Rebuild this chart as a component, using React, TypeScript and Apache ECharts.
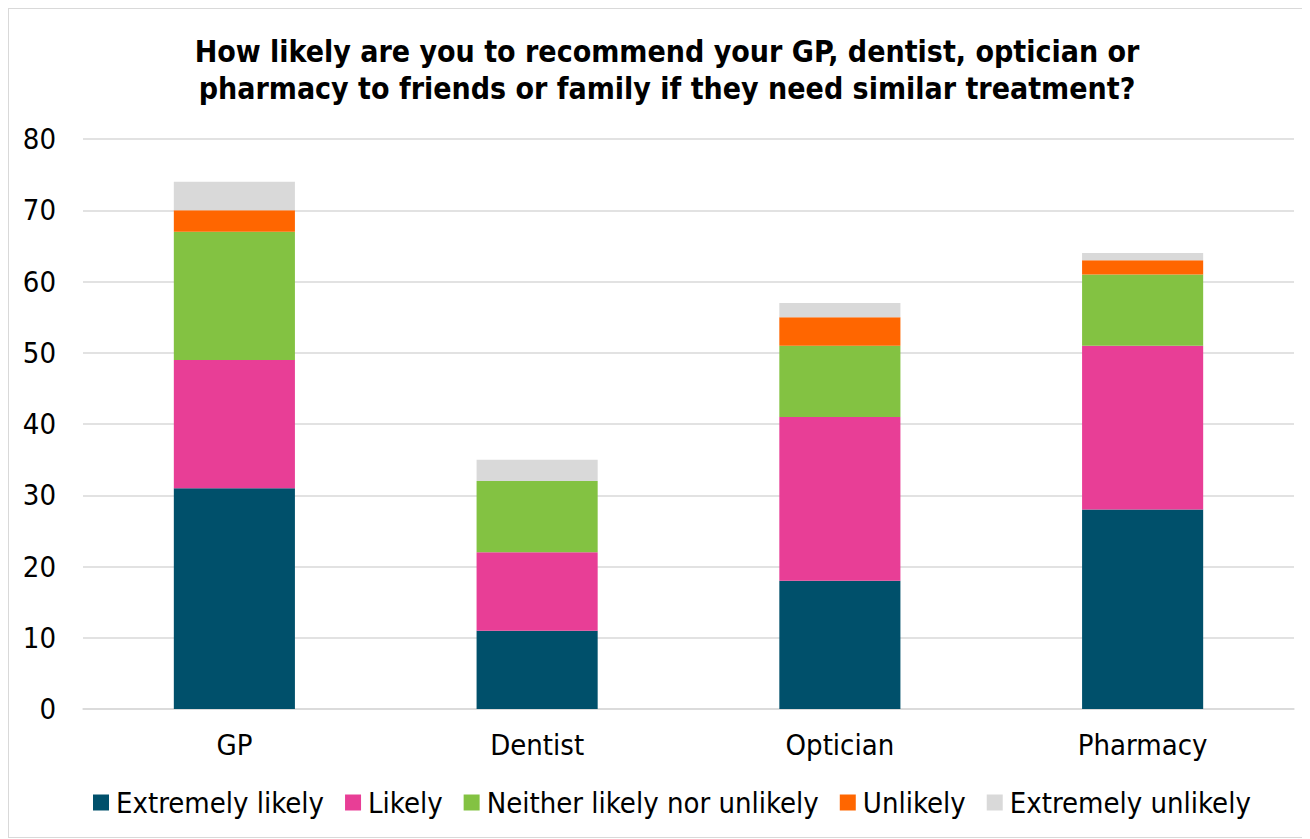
import React, { useEffect, useRef } from "react";
import * as echarts from "echarts";

const categories = ["GP", "Dentist", "Optician", "Pharmacy"];
const extremelyLikely = [31, 11, 18, 28];
const likely = [18, 11, 23, 23];
const neither = [18, 10, 10, 10];
const unlikely = [3, 0, 4, 2];
const extremelyUnlikely = [4, 3, 2, 1];

const seriesDefs = [
  { name: "Extremely likely", data: extremelyLikely, color: "#00506b" },
  { name: "Likely", data: likely, color: "#e83e96" },
  { name: "Neither likely nor unlikely", data: neither, color: "#83c242" },
  { name: "Unlikely", data: unlikely, color: "#ff6600" },
  { name: "Extremely unlikely", data: extremelyUnlikely, color: "#d9d9d9" },
];

const FONT = "'DejaVu Sans Condensed', 'DejaVu Sans', sans-serif";

export default function App() {
  const ref = useRef<HTMLDivElement>(null);

  useEffect(() => {
    if (!ref.current) return;
    const chart = echarts.init(ref.current, null, { renderer: "svg" });
    chart.setOption({
      animation: false,
      title: {
        text: "How likely are you to recommend your GP, dentist, optician or\npharmacy to friends or family if they need similar treatment?",
        left: 653,
        top: 19,
        textAlign: "center",
        textStyle: {
          fontFamily: FONT,
          fontSize: 30,
          fontWeight: "bold",
          color: "#000",
          lineHeight: 37,
        },
      },
      grid: { left: 74, right: 13, top: 130, bottom: 128 },
      legend: {
        bottom: 15,
        left: 79,
        itemWidth: 16,
        itemHeight: 16,
        itemGap: 21,
        icon: "rect",
        textStyle: { fontFamily: FONT, fontSize: 29, color: "#000", padding: [0, 0, 0, 2] },
        data: seriesDefs.map((s) => s.name),
      },
      xAxis: {
        type: "category",
        data: categories,
        axisTick: { show: false },
        axisLine: { lineStyle: { color: "#d9d9d9", width: 1.5 } },
        axisLabel: { fontFamily: FONT, fontSize: 29, color: "#000", margin: 21 },
      },
      yAxis: {
        type: "value",
        min: 0,
        max: 80,
        interval: 10,
        axisLine: { show: false },
        axisTick: { show: false },
        splitLine: { lineStyle: { color: "#d9d9d9", width: 1.5 } },
        axisLabel: { fontFamily: FONT, fontSize: 29, color: "#000", margin: 27 },
      },
      series: seriesDefs.map((s) => ({
        name: s.name,
        type: "bar",
        stack: "total",
        barWidth: "40%",
        data: s.data,
        itemStyle: { color: s.color },
      })),
    });
    return () => chart.dispose();
  }, []);

  return (
    <div
      style={{
        width: 1300,
        height: 830,
        border: "1px solid #d9d9d9",
        boxSizing: "border-box",
        background: "#fff",
      }}
    >
      <div ref={ref} style={{ width: "100%", height: "100%" }} />
    </div>
  );
}
